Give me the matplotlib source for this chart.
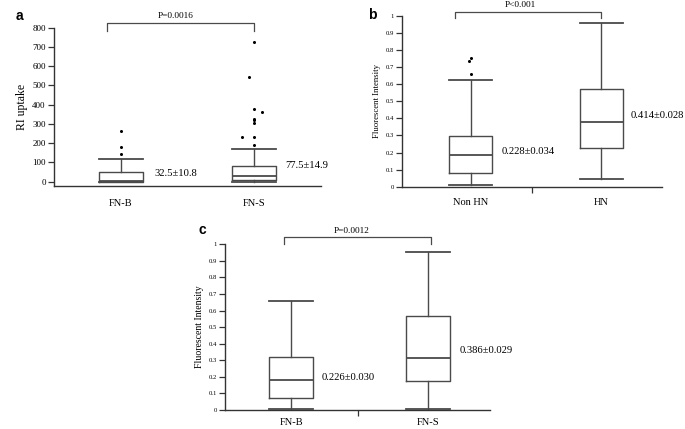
import matplotlib
matplotlib.use("Agg")
import matplotlib.pyplot as plt

plt.rcParams['font.family'] = ['Liberation Serif', 'DejaVu Serif']

# panel a: RI uptake
a_groups = ['FN-B', 'FN-S']
a_whislo = [0, 0]
a_q1 = [0, 8]
a_med = [4, 32]
a_q3 = [48, 80]
a_whishi = [116, 168]
a_fliers = [[142, 182, 265], [192, 234, 234, 306, 320, 327, 364, 378, 545, 727]]
a_flier_dx = [[0, 0, 0], [0, -0.09, 0, 0, 0, 0, 0.06, 0, -0.04, 0]]
a_stats = ['32.5±10.8', '77.5±14.9']
a_p = 'P=0.0016'

# panel b: fluorescent intensity, Non HN vs HN
b_groups = ['Non HN', 'HN']
b_whislo = [0.01, 0.047]
b_q1 = [0.080, 0.226]
b_med = [0.185, 0.380]
b_q3 = [0.296, 0.573]
b_whishi = [0.622, 0.955]
b_fliers = [[0.659, 0.735, 0.752], []]
b_flier_dx = [[0, -0.01, 0.005], []]
b_stats = ['0.228±0.034', '0.414±0.028']
b_p = 'P<0.001'

# panel c: fluorescent intensity, FN-B vs FN-S
c_groups = ['FN-B', 'FN-S']
c_whislo = [0.004, 0.004]
c_q1 = [0.072, 0.177]
c_med = [0.183, 0.316]
c_q3 = [0.318, 0.569]
c_whishi = [0.658, 0.954]
c_stats = ['0.226±0.030', '0.386±0.029']
c_p = 'P=0.0012'

LC = '#4a4a4a'


def draw(ax, groups, lo, q1, med, q3, hi, fliers, fdx, stats, ptxt,
         xlim, ylim, width, stat_xy, bracket, ptick, fs_tick, fs_lab, ylabel,
         center_tick, lab_off):
    bxs = []
    for i in range(len(groups)):
        bxs.append(dict(whislo=lo[i], q1=q1[i], med=med[i], q3=q3[i], whishi=hi[i], fliers=[]))
    pos = [1, 2]
    ax.bxp(bxs, positions=pos, widths=width, showfliers=False,
           boxprops=dict(color=LC, lw=1.0),
           whiskerprops=dict(color=LC, lw=1.0),
           capprops=dict(color=LC, lw=1.3),
           medianprops=dict(color=LC, lw=1.3),
           capwidths=width)
    for i, fl in enumerate(fliers):
        for v, d in zip(fl, fdx[i]):
            ax.plot(pos[i] + d, v, 'o', color='black', ms=2.2, mec='none')
    for i, s in enumerate(stats):
        ax.text(pos[i] + stat_xy[i][0], stat_xy[i][1], s, fontsize=7.7, va='center', ha='left')
    # significance bracket
    x0, x1, ylow, yhigh, ytxt, xtxt = bracket
    ax.plot([x0, x0, x1, x1], [ylow, yhigh, yhigh, ylow], color=LC, lw=0.9, clip_on=False)
    ax.text(xtxt, ytxt, ptxt, fontsize=6.7, ha='center', va='center')

    ax.set_xlim(*xlim)
    ax.set_ylim(*ylim)
    ax.spines['top'].set_visible(False)
    ax.spines['right'].set_visible(False)
    for s in ['left', 'bottom']:
        ax.spines[s].set_color('#333333')
        ax.spines[s].set_linewidth(1.0)
    ax.set_yticks(ptick)
    ax.set_yticklabels([('%g' % t) for t in ptick], fontsize=fs_tick)
    ax.tick_params(axis='y', length=4.5, width=0.9, pad=1.5, color='#333333')
    if center_tick:
        ax.set_xticks([sum(xlim) / 2])
        ax.set_xticklabels([''])
        ax.tick_params(axis='x', length=4, width=0.9, color='#333333')
    else:
        ax.set_xticks([])
    for i, g in enumerate(groups):
        ax.annotate(g, xy=(pos[i], 0), xycoords=('data', 'axes fraction'),
                    xytext=(0, -lab_off), textcoords='offset points',
                    ha='center', va='center', fontsize=7.5)
    ax.set_ylabel(ylabel, fontsize=fs_lab, labelpad=3)


fig = plt.figure(figsize=(6.85, 4.29), dpi=100)

ax_a = fig.add_axes([0.0788, 0.567, 0.390, 0.3684])
draw(ax_a, a_groups, a_whislo, a_q1, a_med, a_q3, a_whishi, a_fliers, a_flier_dx,
     a_stats, a_p, (0.5, 2.5), (-21, 800), 0.33,
     [(0.25, 42), (0.23, 85)], (0.9, 2.0, 784, 826, 862, 1.41),
     list(range(0, 801, 100)), 6.5, 8.5, 'RI uptake', False, 12.5)

ax_b = fig.add_axes([0.5869, 0.5648, 0.3796, 0.3986])
draw(ax_b, b_groups, b_whislo, b_q1, b_med, b_q3, b_whishi, b_fliers, b_flier_dx,
     b_stats, b_p, (0.475, 2.463), (0, 1), 0.333,
     [(0.237, 0.205), (0.22, 0.417)], (0.88, 2.0, 0.987, 1.023, 1.063, 1.38),
     [round(0.1 * k, 1) for k in range(11)], 4.8, 6.3, 'Fluorescent Intensity', True, 11.5)

ax_c = fig.add_axes([0.3285, 0.0443, 0.3869, 0.3862])
draw(ax_c, c_groups, c_whislo, c_q1, c_med, c_q3, c_whishi, [[], []], [[], []],
     c_stats, c_p, (0.516, 2.45), (0, 1), 0.32,
     [(0.222, 0.199), (0.226, 0.358)], (0.95, 2.02, 1.002, 1.046, 1.08, 1.44),
     [round(0.1 * k, 1) for k in range(11)], 4.8, 7.0, 'Fluorescent Intensity', True, 9)

for lab, x, y in [('a', 19, 16), ('b', 372, 15), ('c', 202, 230)]:
    fig.text(x / 685, 1 - y / 429, lab, fontsize=10, fontweight='bold',
             family=['Liberation Sans', 'DejaVu Sans'], ha='center', va='center')

fig.savefig('out.png', dpi=100)
